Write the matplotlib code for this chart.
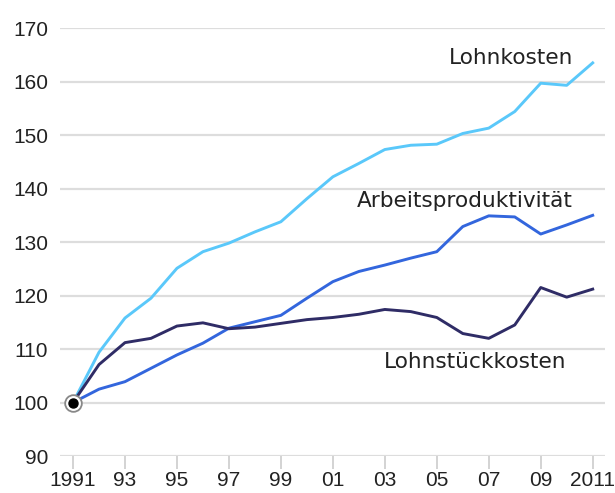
import matplotlib
matplotlib.use('Agg')
from matplotlib import pyplot as plt

years = list(range(1991, 2012))
lohnkosten = [100, 109.4, 115.8, 119.5, 125.1, 128.2, 129.8, 131.9, 133.8, 138.1,
              142.2, 144.7, 147.3, 148.1, 148.3, 150.3, 151.3, 154.4, 159.7, 159.3, 163.5]
produktivitaet = [100, 102.5, 103.9, 106.4, 108.9, 111.1, 113.9, 115.1, 116.3, 119.5,
                  122.6, 124.5, 125.7, 127.0, 128.2, 132.9, 134.9, 134.7, 131.5, 133.2, 135.0]
lohnstueck = [100, 107.1, 111.2, 112.0, 114.3, 114.9, 113.8, 114.1, 114.8, 115.5,
              115.9, 116.5, 117.4, 117.0, 115.9, 112.9, 112.0, 114.5, 121.5, 119.7, 121.2]

tick_years = list(range(1991, 2012, 2))
tick_labels = ['1991', '93', '95', '97', '99', '01', '03', '05', '07', '09', '2011']

plt.rcParams['font.family'] = ['Liberation Sans', 'DejaVu Sans']

fig = plt.figure(figsize=(6.15, 4.93), dpi=100)
ax = fig.add_axes([0.0976, 0.075, 0.886, 0.868])

ax.plot(years, lohnkosten, color='#5AC8FA', lw=2.1, solid_joinstyle='round')
ax.plot(years, produktivitaet, color='#3366DD', lw=2.1, solid_joinstyle='round')
ax.plot(years, lohnstueck, color='#2F2C66', lw=2.1, solid_joinstyle='round')

# base point 1991 = 100
ax.plot([1991], [100], marker='o', ms=12, mfc='white', mec='#888888', mew=1.3, zorder=5)
ax.plot([1991], [100], marker='o', ms=6.5, mfc='black', mec='black', zorder=6)

ax.set_xlim(1990.5, 2011.47)
ax.set_ylim(90, 170)
ax.set_yticks(range(90, 171, 10))
ax.set_xticks(tick_years)
ax.set_xticklabels(tick_labels)
ax.grid(axis='y', color='#DDDDDD', lw=1.6)
ax.set_axisbelow(True)
for s in ax.spines.values():
    s.set_visible(False)
ax.tick_params(axis='y', length=0, labelsize=15, pad=8.5, colors='#222222')
ax.tick_params(axis='x', length=9, width=1.2, color='#CCCCCC', labelsize=15,
               pad=2, labelcolor='#222222')

lab = dict(ha='right', va='center', fontsize=15.6, color='#222222', family='DejaVu Sans')
ax.text(2010.24, 164.4, 'Lohnkosten', **lab)
ax.text(2010.24, 137.7, 'Arbeitsproduktivität', **lab)
ax.text(2010.0, 107.6, 'Lohnstückkosten', **lab)

plt.savefig('out.png', dpi=100)
